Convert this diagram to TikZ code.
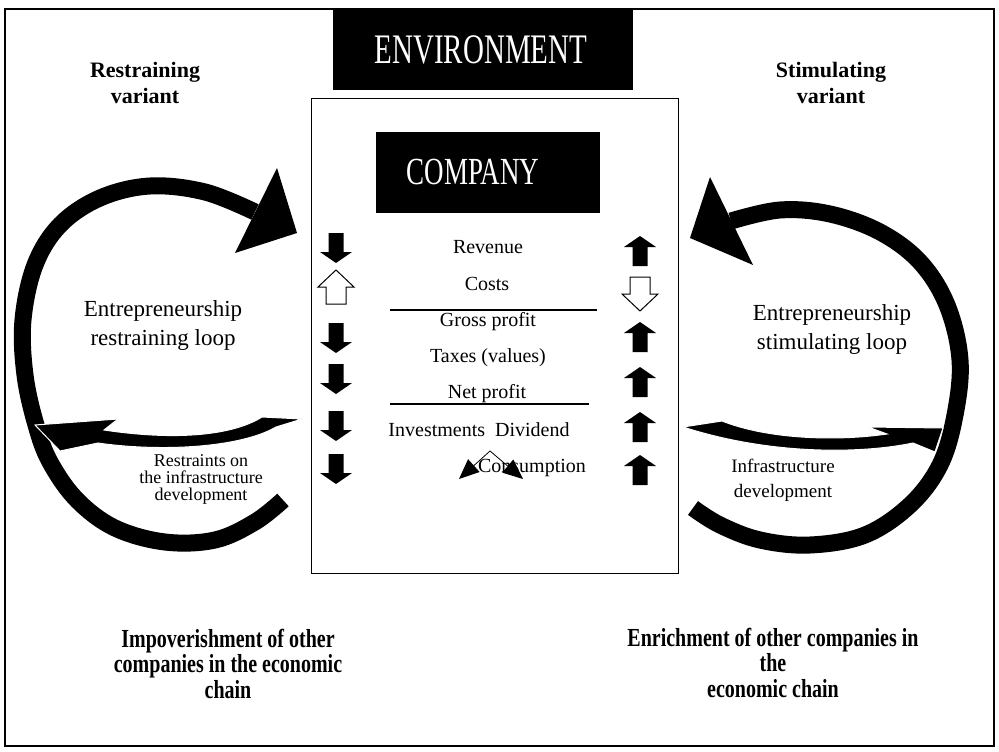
\documentclass[tikz,border=0pt]{standalone}
\usepackage{fontspec}
\setmainfont{Liberation Serif}
\usetikzlibrary{arrows.meta}
\newcommand{\tallbox}[2][1.3]{\scalebox{1}[#1]{#2}}

\tikzset{
  loopband/.style={line width=17pt, line cap=butt},
  loophead/.style={fill=black},
  sidearrow/.style={fill=black, draw=white, line width=1pt},
  solidarr/.style={fill=black},
  openarr/.style={draw=black, fill=white, line width=1pt},
  pointup/.style={yscale=-1},
  darkbox/.style={fill=black, inner sep=0pt},
  boxtext/.style={text=white, font=\fontsize{29}{30}\selectfont},
  rule/.style={line width=1.4pt},
  rowtext/.style={anchor=base, font=\fontsize{20}{24}\selectfont},
  variantlabel/.style={align=center, anchor=base, font=\fontsize{22}{26}\selectfont\bfseries},
  looplabel/.style={align=center, anchor=base, font=\fontsize{23}{29}\selectfont},
  chainlabel/.style={align=center, anchor=base, font=\fontsize{20}{25.5}\selectfont\bfseries},
  pics/fullarr/.style={code={
    \path[pic actions] (-7.5,-15) -- (7.5,-15) -- (7.5,4) -- (16,4) -- (0,15) -- (-16,4) -- (-7.5,4) -- cycle;}},
  pics/hollowarr/.style={code={
    \path[pic actions] (-10,-17) -- (10,-17) -- (10,0) -- (18,0) -- (0,17) -- (-18,0) -- (-10,0) -- cycle;}},
}

\begin{document}
\begin{tikzpicture}[x=1pt,y=-1pt]
  \useasboundingbox (0,0) rectangle (999,752);
  \draw[line width=1.2pt] (5,9) rectangle (994,746);

  % environment and company
  \node[darkbox, minimum width=300pt, minimum height=82pt] (envbox) at (483,49) {};
  \node[boxtext] (environment) at (481,50) {\tallbox[1.45]{ENVIRONMENT}};
  \draw[line width=1pt] (311,98) rectangle (678,573);
  \node[darkbox, minimum width=224pt, minimum height=81pt] (companybox) at (488,172.5) {};
  \node[boxtext, font=\fontsize{27}{28}\selectfont] (company) at (473,172) {\tallbox[1.42]{COMPANY}};

  % income statement rows
  \node[rowtext] (revenue) at (488,253) {Revenue};
  \node[rowtext] (costs) at (487,290) {Costs};
  \draw[rule] (390,310) -- (597,310);
  \node[rowtext] (gross) at (488,326) {Gross profit};
  \node[rowtext] (taxes) at (488,362) {Taxes (values)};
  \node[rowtext] (net) at (487,398) {Net profit};
  \draw[rule] (390,404) -- (589,404);
  \node[rowtext] (invest) at (479,436) {Investments\ \ Dividend};
  \node[rowtext] (consumption) at (532,472) {Consumption};
  \coordinate (peak) at (490,451);
  \coordinate (invtip) at (459,479);
  \coordinate (divtip) at (523,479);
  \draw[line width=0.8pt, -{Triangle[length=20pt,width=17pt]}] (peak) -- (invtip);
  \draw[line width=0.8pt, -{Triangle[length=20pt,width=17pt]}] (peak) -- (divtip);

  % restraining column
  \pic[solidarr] at (336,248) {fullarr};
  \pic[openarr, pointup] at (336,287) {hollowarr};
  \pic[solidarr] at (336,338) {fullarr};
  \pic[solidarr] at (336,379) {fullarr};
  \pic[solidarr] at (336,426) {fullarr};
  \pic[solidarr] at (336,469) {fullarr};
  % stimulating column
  \pic[solidarr, pointup] at (640,251) {fullarr};
  \pic[openarr] at (640,294) {hollowarr};
  \pic[solidarr, pointup] at (640,337) {fullarr};
  \pic[solidarr, pointup] at (640,382) {fullarr};
  \pic[solidarr, pointup] at (640,427) {fullarr};
  \pic[solidarr, pointup] at (640,470) {fullarr};

  % restraining loop
  \draw[loopband] plot[smooth, tension=0.6] coordinates {(255,212) (205,192) (150,186) (100,198) (60,225) (35,265)
    (23,320) (25,375) (36,425) (50,462) (77,500) (115,528) (165,542) (215,540) (255,522) (283,500)};
  \fill[loophead] (277,168) -- (297,233) -- (235,253) -- cycle;
  \filldraw[sidearrow] (35,425) -- (118,419) -- (104,430) .. controls (170,440) and (230,437) .. (262,417)
    -- (302,419) -- (276,427) .. controls (240,448) and (160,452) .. (98,443) -- (60,451) -- cycle;

  % stimulating loop
  \draw[loopband] plot[smooth, tension=0.6] coordinates {(731,221) (780,210) (830,214) (880,232) (920,262) (947,305)
    (960,360) (955,415) (940,465) (910,505) (865,535) (810,545) (760,540) (720,525) (693,508)};
  \fill[loophead] (710,177) -- (690,238) -- (753,265) -- cycle;
  \filldraw[sidearrow] (683,427) -- (722,421) .. controls (770,440) and (840,441) .. (887,434) -- (868,427)
    -- (943,428) -- (935,452) -- (913,443) .. controls (860,454) and (770,455) .. (683,427) -- cycle;

  % labels (base is the last line)
  \node[variantlabel] (restrvar) at (145,103) {Restraining\\variant};
  \node[variantlabel] (stimvar) at (831,103) {Stimulating\\variant};
  \node[looplabel] (restrloop) at (163,345) {Entrepreneurship\\restraining loop};
  \node[looplabel] (stimloop) at (832,349) {Entrepreneurship\\stimulating loop};
  \node[align=center, anchor=base, font=\fontsize{18}{17}\selectfont] (restraints) at (201,500)
    {Restraints on\\the infrastructure\\development};
  \node[align=center, anchor=base, font=\fontsize{19}{25}\selectfont] (infra) at (783,497)
    {Infrastructure\\development};
  \node[chainlabel] (impover) at (228,698)
    {\tallbox{Impoverishment of other}\\\tallbox{companies in the economic}\\\tallbox{chain}};
  \node[chainlabel] (enrich) at (773,697)
    {\tallbox{Enrichment of other companies in}\\\tallbox{the}\\\tallbox{economic chain}};
\end{tikzpicture}
\end{document}
